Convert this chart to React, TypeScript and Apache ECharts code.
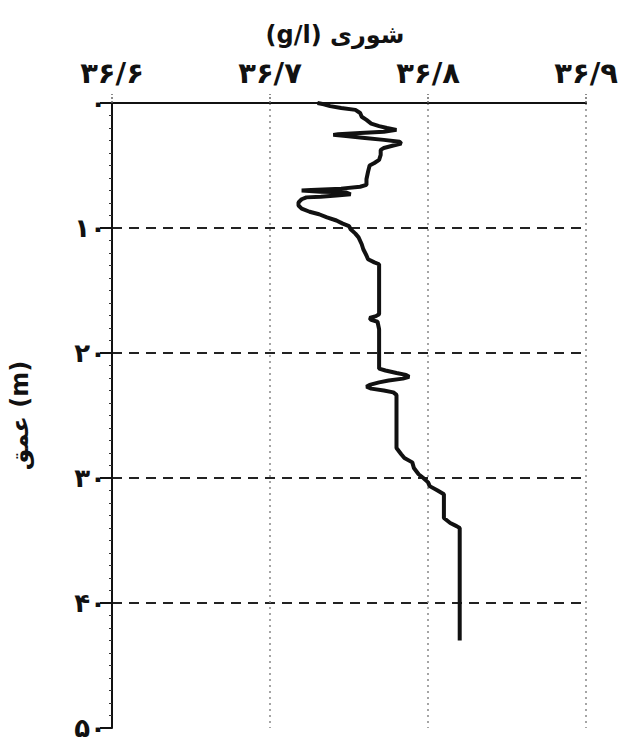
import React, { useEffect, useRef } from "react";
import * as echarts from "echarts";

const chartTitle = "\u2067شوری (g/l)\u2069";
const depthAxisName = "عمق (m)";
const salinityTicks = [36.6, 36.7, 36.8, 36.9];
const depthTicks = [0, 10, 20, 30, 40, 50];

// [salinity (g/l), depth (m)] read from the profile
const profile: [number, number][] = [
  [36.730, 0], [36.734, 0.1], [36.738, 0.25], [36.745, 0.4], [36.754, 0.55],
  [36.757, 0.8], [36.758, 1.1], [36.761, 1.35], [36.764, 1.65], [36.769, 1.85],
  [36.774, 2.0], [36.780, 2.15], [36.772, 2.3], [36.757, 2.4], [36.743, 2.5],
  [36.740, 2.55], [36.748, 2.65], [36.760, 2.8], [36.772, 2.95], [36.782, 3.1],
  [36.783, 3.25], [36.778, 3.4], [36.772, 3.6], [36.770, 3.75], [36.770, 4.15],
  [36.769, 4.55], [36.766, 4.8], [36.763, 5.0], [36.762, 5.5], [36.761, 6.1],
  [36.761, 6.55], [36.757, 6.7], [36.745, 6.85], [36.726, 6.95], [36.720, 7.0],
  [36.732, 7.1], [36.748, 7.15], [36.751, 7.3], [36.742, 7.4], [36.732, 7.5],
  [36.723, 7.55], [36.720, 7.7], [36.718, 7.95], [36.718, 8.2], [36.720, 8.45],
  [36.725, 8.7], [36.731, 8.9], [36.736, 9.15], [36.742, 9.4], [36.746, 9.65],
  [36.750, 9.85], [36.751, 10.1], [36.754, 10.45], [36.756, 10.75], [36.758, 11.3],
  [36.759, 11.7], [36.761, 12.2], [36.762, 12.5], [36.766, 12.75], [36.769, 12.9],
  [36.769, 14.9], [36.769, 16.9], [36.767, 17.05], [36.763, 17.2], [36.764, 17.35],
  [36.768, 17.5], [36.769, 18.1], [36.769, 19.7], [36.769, 20.85], [36.769, 21.25],
  [36.773, 21.4], [36.780, 21.6], [36.786, 21.75], [36.788, 21.9], [36.784, 22.05],
  [36.775, 22.2], [36.769, 22.35], [36.763, 22.55], [36.761, 22.7], [36.764, 22.85],
  [36.772, 23.0], [36.778, 23.15], [36.780, 23.35], [36.780, 25.2], [36.780, 27.6],
  [36.783, 28.1], [36.785, 28.4], [36.790, 28.75], [36.791, 29.2], [36.794, 29.7],
  [36.797, 30.0], [36.800, 30.35], [36.801, 30.65], [36.806, 31.0], [36.810, 31.3],
  [36.810, 32.4], [36.810, 33.2], [36.814, 33.6], [36.818, 33.85], [36.820, 34.0],
  [36.820, 36.4], [36.820, 39.6], [36.820, 43.0],
];

const faDigits = "۰۱۲۳۴۵۶۷۸۹";
const toFa = (s: string) =>
  s.replace(/[0-9]/g, (d) => faDigits[Number(d)]).replace(".", "/");

const FONT = "DejaVu Sans";

export default function App() {
  const ref = useRef<HTMLDivElement>(null);
  useEffect(() => {
    if (!ref.current) return;
    const chart = echarts.init(ref.current, undefined, { renderer: "svg" });
    chart.setOption({
      animation: false,
      backgroundColor: "#ffffff",
      grid: { left: 105, right: 29, top: 103, bottom: 14, containLabel: false },
      graphic: [
        {
          type: "text",
          x: 335,
          y: 35,
          style: {
            text: chartTitle,
            align: "center",
            verticalAlign: "middle",
            fontFamily: FONT,
            fontWeight: "bold",
            fontSize: 24,
            fill: "#111",
          },
        },
      ],
      xAxis: {
        type: "value",
        position: "top",
        min: salinityTicks[0],
        max: salinityTicks[salinityTicks.length - 1],
        interval: 0.1,
        axisLine: { show: true, lineStyle: { color: "#111", width: 2 } },
        axisTick: {
          show: true,
          length: 9,
          lineStyle: { color: "#666", width: 1.5, type: [2, 2] },
        },
        axisLabel: {
          margin: 16,
          fontFamily: FONT,
          fontWeight: "bold",
          fontSize: 29,
          color: "#111",
          formatter: (v: number) => toFa(v.toFixed(1)),
        },
        splitLine: {
          show: true,
          lineStyle: { color: "#888", width: 1.5, type: [2, 4] },
        },
      },
      yAxis: {
        type: "value",
        inverse: true,
        min: depthTicks[0],
        max: depthTicks[depthTicks.length - 1],
        interval: 10,
        name: depthAxisName,
        nameLocation: "middle",
        nameRotate: 90,
        nameGap: 80,
        nameTextStyle: {
          fontFamily: FONT,
          fontWeight: "bold",
          fontSize: 24,
          color: "#111",
        },
        axisLine: { show: true, lineStyle: { color: "#111", width: 2 } },
        axisTick: { show: true, length: 12, lineStyle: { color: "#111", width: 2 } },
        minorTick: { show: true, splitNumber: 10, length: 3, lineStyle: { color: "#333", width: 1 } },
        axisLabel: {
          margin: 6,
          fontFamily: FONT,
          fontWeight: "bold",
          fontSize: 26,
          color: "#111",
          formatter: (v: number) => toFa(String(v)),
        },
        splitLine: {
          show: true,
          showMaxLine: false,
          lineStyle: { color: "#222", width: 2, type: [10, 7] },
        },
      },
      series: [
        {
          type: "line",
          data: profile,
          showSymbol: false,
          symbol: "none",
          lineStyle: { color: "#111", width: 4 },
        },
      ],
    });
    return () => chart.dispose();
  }, []);
  return (
    <div
      ref={ref}
      style={{ position: "fixed", left: 0, top: 0, width: 621, height: 742, background: "#fff" }}
    />
  );
}
